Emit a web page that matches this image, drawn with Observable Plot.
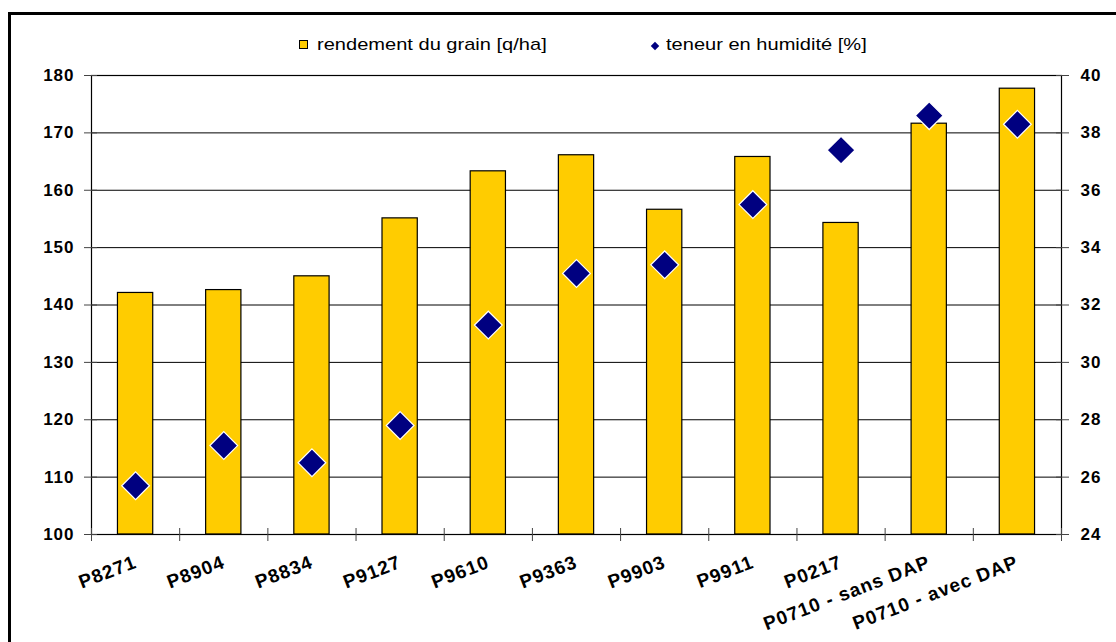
<!DOCTYPE html>
<html><head><meta charset="utf-8">
<script src="https://cdn.jsdelivr.net/npm/d3@7"></script>
<script src="https://cdn.jsdelivr.net/npm/@observablehq/plot@0.6"></script>
<style>
html,body{margin:0;padding:0;background:#fff;}
body{width:1116px;height:642px;overflow:hidden;position:relative;font-family:Arial,"Liberation Sans",sans-serif;}
#frame{position:absolute;z-index:5;left:8px;top:12px;width:1200px;height:700px;border-left:3px solid #000;border-top:3px solid #000;box-sizing:border-box;pointer-events:none;}
.leg{position:absolute;top:35px;font-size:17px;color:#000;line-height:20px;white-space:nowrap;transform:scaleX(1.18);transform-origin:0 50%;}
.sq{position:absolute;top:40px;width:7px;height:7px;background:#FFCC00;border:1px solid #000;}
.dm{position:absolute;top:43px;width:6px;height:6px;background:#000080;transform:rotate(45deg);}
#chart{position:absolute;left:0;top:60px;}
#chart svg text{letter-spacing:1px;}
</style></head>
<body>
<div id="frame"></div>
<div class="sq" style="left:299px"></div><div class="leg" style="left:317px">rendement du grain [q/ha]</div>
<div class="dm" style="left:652px"></div><div class="leg" style="left:666px">teneur en humidité [%]</div>
<div id="chart"></div>
<script>
const categories = ["P8271","P8904","P8834","P9127","P9610","P9363","P9903","P9911","P0217","P0710 - sans DAP","P0710 - avec DAP"];
const rendement = [142.1,142.6,145.0,155.1,163.3,166.1,156.6,165.8,154.3,171.6,177.7];
const humidite = [25.7,27.1,26.5,27.8,31.3,33.1,33.4,35.5,37.4,38.6,38.3];
const yTicks = [100,110,120,130,140,150,160,170,180];
const y2Ticks = [24,26,28,30,32,34,36,38,40];

// moisture (%) expressed on the yield scale: 24..40 -> 100..180
const toY = h => 100 + (h - 24) * 5;
const fromY = v => 24 + (v - 100) / 5;

const data = categories.map((c, i) => ({i, c, r: rendement[i], h: humidite[i]}));
const bounds = d3.range(categories.length + 1);
const centers = d3.range(categories.length).map(i => i + 0.5);

const yFont = {fontSize: 17, fontWeight: "bold", fill: "#000"};
const xFont = {fontSize: 19, fontWeight: "bold", fill: "#000"};

const chart = Plot.plot({
  width: 1116,
  height: 574,
  marginLeft: 91,
  marginRight: 55,
  marginTop: 15,
  marginBottom: 100,
  style: {fontFamily: "Arial, 'Liberation Sans', sans-serif", background: "transparent", overflow: "visible"},
  x: {type: "linear", domain: [0, categories.length], axis: null},
  y: {domain: [100, 180], axis: null},
  marks: [
    Plot.gridY(yTicks.slice(1, -1), {stroke: "#000", strokeOpacity: 1, strokeWidth: 1}),
    Plot.rectY(data, {x1: d => d.i + 0.3, x2: d => d.i + 0.7, y1: 100, y2: "r", fill: "#FFCC00", stroke: "#000", strokeWidth: 1.2}),
    Plot.frame({stroke: "#000", strokeWidth: 1.2}),
    // left axis
    Plot.axisY(yTicks, {anchor: "left", label: null, tickSize: 7, tickPadding: 10, stroke: "#444", ...yFont}),
    Plot.axisY(yTicks, {anchor: "left", label: null, tickSize: -6, tickFormat: () => "", stroke: "#444"}),
    // right axis (moisture)
    Plot.axisY(y2Ticks.map(toY), {anchor: "right", label: null, tickSize: 7, tickPadding: 12, stroke: "#444", tickFormat: v => String(Math.round(fromY(v))), ...yFont}),
    Plot.axisY(y2Ticks.map(toY), {anchor: "right", label: null, tickSize: -6, tickFormat: () => "", stroke: "#444"}),
    // x boundary ticks (cross)
    Plot.axisX(bounds, {anchor: "bottom", label: null, tickSize: 7, tickFormat: () => "", stroke: "#444"}),
    Plot.axisX(bounds, {anchor: "bottom", label: null, tickSize: -6, tickFormat: () => "", stroke: "#444"}),
    // x category labels
    Plot.axisX(centers, {anchor: "bottom", label: null, tickSize: 0, tickPadding: 27, tickRotate: -21, tickFormat: v => categories[Math.floor(v)], ...xFont}),
    Plot.dot(data, {x: d => d.i + 0.5, y: d => toY(d.h), symbol: "diamond2", r: 12.5, fill: "#000080", stroke: "#fff", strokeWidth: 1.2})
  ]
});
document.getElementById("chart").appendChild(chart);
</script>
</body></html>
